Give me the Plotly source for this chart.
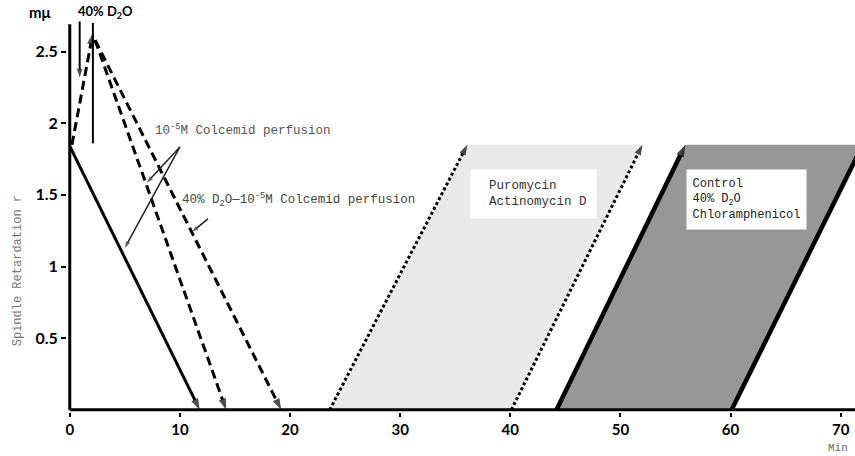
import plotly.graph_objects as go

# Axis ticks
x_ticks = [0, 10, 20, 30, 40, 50, 60, 70]
y_ticks = [0.5, 1, 1.5, 2, 2.5]
y_tick_text = ["0.5", "1", "1.5", "2", "2.5"]

# 10^-5 M Colcemid perfusion (min, retardation r)
colcemid_x = [0.0, 11.8]
colcemid_y = [1.84, 0.0]

# 40% D2O rise before perfusion
d2o_rise_x = [0.2, 2.1]
d2o_rise_y = [1.85, 2.63]

# 40% D2O - 10^-5 M Colcemid perfusion (two decay curves)
d2o_col_a_x = [2.3, 14.2]
d2o_col_a_y = [2.58, 0.0]
d2o_col_b_x = [2.3, 19.2]
d2o_col_b_y = [2.58, 0.0]

# Recovery bands: edge start at r = 0, reaching r = 1.85
band_y = [0.0, 1.85]
puro_left_x = [23.6, 36.1]
puro_right_x = [40.1, 52.0]
ctrl_left_x = [44.2, 55.9]
ctrl_right_x = [60.1, 72.0]

# D2O addition marker
d2o_mark_x = [0.9, 0.9]
d2o_mark_y = [2.71, 2.32]
d2o_line_x = [2.1, 2.1]
d2o_line_y = [2.70, 1.86]

# Label leader lines (from label to curve)
lead1a_x = [10.0, 7.0]
lead1a_y = [1.835, 1.585]
lead1b_x = [10.0, 5.0]
lead1b_y = [1.835, 1.13]
lead2_x = [12.55, 11.1]
lead2_y = [1.333, 1.242]

MONO = "Liberation Mono"
SANS = "Lato"

fig = go.Figure()


def band(left_x, right_x, color):
    xs = [left_x[0], left_x[1], right_x[1], right_x[0]]
    ys = [band_y[0], band_y[1], band_y[1], band_y[0]]
    fig.add_trace(go.Scatter(x=xs, y=ys, fill="toself", fillcolor=color,
                             mode="lines", line=dict(width=0),
                             hoverinfo="skip", showlegend=False))


def arrow_line(xs, ys, width, dash="solid", head=12, color="black"):
    fig.add_trace(go.Scatter(
        x=xs, y=ys, mode="lines+markers",
        line=dict(color=color, width=width, dash=dash),
        marker=dict(symbol=["circle", "arrow"], size=[0, head],
                    angleref="previous", color=color,
                    line=dict(width=0)),
        cliponaxis=False, hoverinfo="skip", showlegend=False))


def plain_line(xs, ys, width, color="black"):
    fig.add_trace(go.Scatter(x=xs, y=ys, mode="lines",
                             line=dict(color=color, width=width),
                             hoverinfo="skip", showlegend=False))


# shaded recovery bands
band(puro_left_x, puro_right_x, "#e9e9e9")
band(ctrl_left_x, ctrl_right_x, "#979797")

# band edges
arrow_line(puro_left_x, band_y, 3, dash="3px,2.5px", head=11)
arrow_line(puro_right_x, band_y, 3, dash="3px,2.5px", head=11)
arrow_line(ctrl_left_x, band_y, 4.5, head=13)
arrow_line(ctrl_right_x, band_y, 4.5, head=13)

# axes drawn as lines
plain_line([0, 71.6], [0, 0], 3)
plain_line([0, 0], [0, 2.69], 3)

# perfusion curves
arrow_line(colcemid_x, colcemid_y, 3)
arrow_line(d2o_rise_x, d2o_rise_y, 3, dash="9px,5px")
arrow_line(d2o_col_a_x, d2o_col_a_y, 3, dash="9px,5px")
arrow_line(d2o_col_b_x, d2o_col_b_y, 3, dash="9px,5px")

# D2O addition marks
arrow_line(d2o_mark_x, d2o_mark_y, 2, head=9)
plain_line(d2o_line_x, d2o_line_y, 2)

# leader lines
arrow_line(lead1a_x, lead1a_y, 1.5, head=7, color="#222")
arrow_line(lead1b_x, lead1b_y, 1.5, head=7, color="#222")
arrow_line(lead2_x, lead2_y, 1.5, head=7, color="#222")

# labels placed on the data axes
data_labels = [
    dict(x=7.56, y=1.95, xanchor="left", yanchor="middle",
         text="10<sup>-5</sup>M Colcemid perfusion",
         font=dict(family=MONO, size=12.5, color="#555")),
    dict(x=10.0, y=1.465, xanchor="left", yanchor="middle",
         text="40% D<sub>2</sub>O\u201410<sup>-5</sup>M Colcemid perfusion",
         font=dict(family=MONO, size=12.5, color="#444")),
    dict(x=42.1, y=1.507, xanchor="center", yanchor="middle",
         text="&nbsp;&nbsp;Puromycin<br>&nbsp;&nbsp;Actinomycin D",
         align="left", width=119, height=42, borderpad=3,
         bgcolor="white", font=dict(family=MONO, size=12.5, color="#333")),
    dict(x=61.44, y=1.465, xanchor="center", yanchor="middle",
         text="Control<br>40% D<sub>2</sub>O<br>Chloramphenicol",
         align="left", width=108, height=48, borderpad=5.5,
         bgcolor="white", font=dict(family=MONO, size=12, color="#222")),
    dict(x=0.6, y=2.775, xanchor="left", yanchor="middle",
         text="40% D<sub>2</sub>O",
         font=dict(family=SANS, size=13, color="black", weight="bold")),
]
for a in data_labels:
    a.update(xref="x", yref="y", showarrow=False)

# labels outside the plotting area
paper_labels = [
    dict(x=-0.062, y=0.342, xanchor="center", yanchor="middle",
         text="Spindle Retardation r", textangle=-90,
         font=dict(family=MONO, size=12, color="#777")),
    dict(x=-0.034, y=0.971, xanchor="center", yanchor="middle",
         text="m\u03bc", font=dict(family=SANS, size=15, color="black", weight="bold")),
    dict(x=0.978, y=-0.087, xanchor="center", yanchor="middle",
         text="Min", font=dict(family=MONO, size=11, color="#666")),
]
for a in paper_labels:
    a.update(xref="paper", yref="paper", showarrow=False)

fig.update_layout(
    width=855, height=456,
    margin=dict(l=67, r=0, t=0, b=44),
    paper_bgcolor="white", plot_bgcolor="white",
    showlegend=False,
    annotations=data_labels + paper_labels,
    xaxis=dict(range=[-0.25, 71.3], tickvals=x_ticks, showgrid=False,
               zeroline=False, showline=False, ticks="outside", ticklen=4,
               tickwidth=2, tickcolor="black",
               tickfont=dict(family=SANS, size=15, color="black", weight="bold")),
    yaxis=dict(range=[-0.015, 2.86], tickvals=y_ticks, ticktext=y_tick_text,
               showgrid=False, zeroline=False, showline=False, ticks="outside",
               ticklen=5, tickwidth=2, tickcolor="black",
               tickfont=dict(family=SANS, size=16, color="black", weight="bold")),
)

fig.write_html("out.html")
